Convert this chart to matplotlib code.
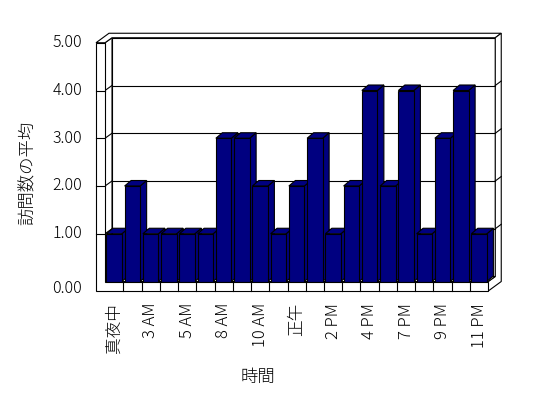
import matplotlib
matplotlib.use('Agg')
import matplotlib.pyplot as plt
from matplotlib.patches import Polygon
import numpy as np

plt.rcParams['font.family'] = ['Noto Sans CJK JP', 'DejaVu Sans']
plt.rcParams['font.weight'] = 'light'

# data
categories = ['真夜中', '1 AM', '3 AM', '4 AM', '5 AM', '6 AM', '8 AM', '9 AM',
              '10 AM', '11 AM', '正午', '1 PM', '2 PM', '3 PM', '4 PM', '5 PM',
              '7 PM', '8 PM', '9 PM', '10 PM', '11 PM']
values = [1, 2, 1, 1, 1, 1, 3, 3, 2, 1, 2, 3, 1, 2, 4, 2, 4, 1, 3, 4, 1]
y_ticks = [0, 1, 2, 3, 4, 5]
x_title = '時間'
y_title = '訪問数の平均'

bar_color = '#000080'
W, H = 548, 398

fig = plt.figure(figsize=(W / 100, H / 100), dpi=100)
# front plane of the 3d box
ax = fig.add_axes([105 / W, (H - 281.5) / H, 383.25 / W, 238.75 / H])
n = len(values)
ax.set_xlim(-0.5, n - 0.5)
ax.set_ylim(0, 5)
ax.axis('off')

# pixel sizes of one data unit
sx = 383.25 / n
sy = 238.75 / 5
in_x, in_y = 7 / sx, 5 / sy          # depth to the inside of the back wall
out_x, out_y = 13 / sx, 9.5 / sy     # depth to the outside of the back wall
wall = 9 / sx                         # left wall thickness
floor = 9.5 / sy                      # floor thickness
x0, x1 = -0.5, n - 0.5
ytop = 5

def poly(pts, z, fc='white'):
    ax.add_patch(Polygon(pts, closed=True, fc=fc, ec='black', lw=0.8,
                         zorder=z, clip_on=False, joinstyle='miter'))

def line(xs, ys, z):
    ax.plot(xs, ys, color='black', lw=0.8, zorder=z, clip_on=False)

# back wall, left wall inner face, floor top
poly([(x0 + in_x, in_y), (x1 + in_x, in_y), (x1 + in_x, ytop + in_y), (x0 + in_x, ytop + in_y)], 1)
poly([(x0, 0), (x0, ytop), (x0 + in_x, ytop + in_y), (x0 + in_x, in_y)], 1)
poly([(x0, 0), (x1, 0), (x1 + in_x, in_y), (x0 + in_x, in_y)], 1.2)

# top strip of the walls and right side of back wall + floor
poly([(x0 - wall, ytop), (x0, ytop), (x0 + in_x, ytop + in_y), (x1 + in_x, ytop + in_y),
      (x1 + out_x, ytop + out_y), (x0 - wall + out_x, ytop + out_y)], 1)
poly([(x1 + in_x, ytop + in_y), (x1 + out_x, ytop + out_y), (x1 + out_x, -floor + out_y),
      (x1, -floor), (x1, 0), (x1 + in_x, in_y)], 1)

# gridlines
for v in y_ticks[1:-1]:
    line([x0 + in_x, x1 + in_x], [v + in_y, v + in_y], 1.5)
    line([x0, x0 + in_x], [v, v + in_y], 1.5)
    line([x1 + in_x, x1 + out_x], [v + in_y, v + out_y], 1.5)

# bars
bw = 0.85
bdx, bdy = 6.5 / sx, 5.5 / sy
xs = np.arange(n)
for i, v in enumerate(values):
    l, r = i - bw / 2, i + bw / 2
    z = 3 + i * 0.01
    poly([(r, 0), (r + bdx, bdy), (r + bdx, v + bdy), (r, v)], z, bar_color)
    poly([(l, v), (r, v), (r + bdx, v + bdy), (l + bdx, v + bdy)], z, bar_color)
ax.bar(xs, values, width=bw, color=bar_color, edgecolor='black', lw=0.8,
       zorder=3.5, clip_on=False)
# keep each bar's front above its own side but under the next bar's faces
for i, p in enumerate(ax.patches[-n:]):
    p.set_zorder(3 + i * 0.01 + 0.005)

# front L of left wall + floor
poly([(x0 - wall, -floor), (x1, -floor), (x1, 0), (x0, 0), (x0, ytop), (x0 - wall, ytop)], 10)
for v in y_ticks[1:-1]:
    line([x0 - wall, x0], [v, v], 10.5)
for b in np.arange(x0 + 1, x1, 1):
    line([b, b], [0, -floor], 10.5)

# tick labels
for v in y_ticks:
    yy = v - 7 / sy if v == 0 else v
    ax.text(x0 - 23 / sx, yy, f'{v:.2f}', ha='right', va='center', fontsize=11.5)
for i in range(0, n, 2):
    ax.text(i, -21.5 / sy, categories[i], rotation=90, ha='center', va='top', fontsize=12)

fig.text(28 / W, 1 - 173 / H, y_title, rotation=90, ha='center', va='center', fontsize=12.5)
fig.text(258 / W, 1 - 377 / H, x_title, ha='center', va='center', fontsize=12.5)

fig.savefig('out.png', dpi=100, facecolor='white')
